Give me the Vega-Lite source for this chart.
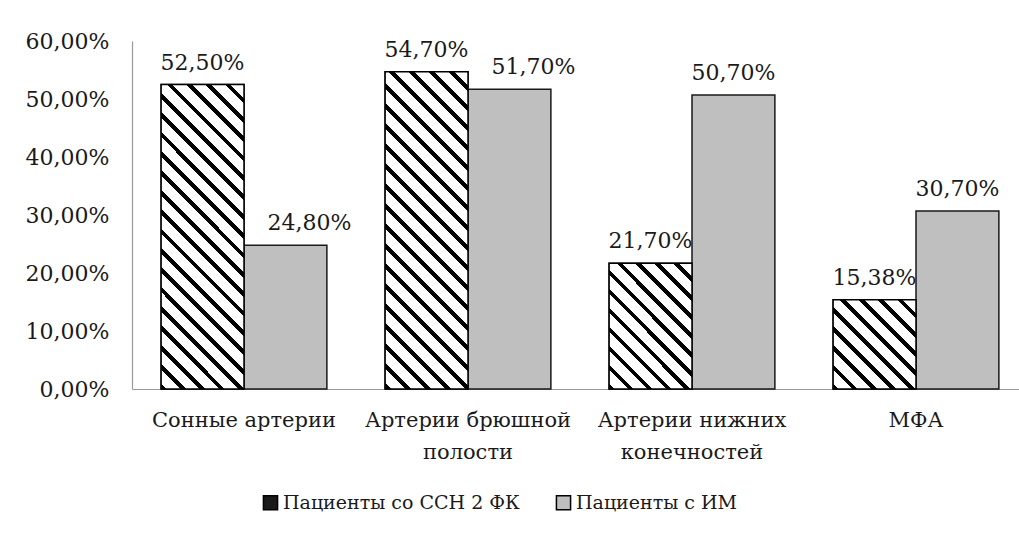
{
  "$schema": "https://vega.github.io/schema/vega-lite/v6.json",
  "width": 887,
  "height": 348,
  "autosize": {"type": "none"},
  "padding": {"left": 132, "top": 41, "right": 0, "bottom": 148},
  "background": "white",
  "config": {
    "locale": {"number": {"decimal": ",", "thousands": " ", "grouping": [3], "currency": ["", ""]}},
    "view": {"stroke": null},
    "font": "DejaVu Serif",
    "axis": {"labelFont": "DejaVu Serif", "labelFontSize": 22, "labelColor": "#1a1a1a", "domainColor": "#999999", "domainWidth": 1.2, "ticks": false, "grid": false, "title": null}
  },
  "data": {"values": [
    {"category": "Сонные артерии", "series": "Пациенты со ССН 2 ФК", "value": 0.525},
    {"category": "Сонные артерии", "series": "Пациенты с ИМ", "value": 0.248},
    {"category": "Артерии брюшной полости", "series": "Пациенты со ССН 2 ФК", "value": 0.547},
    {"category": "Артерии брюшной полости", "series": "Пациенты с ИМ", "value": 0.517},
    {"category": "Артерии нижних конечностей", "series": "Пациенты со ССН 2 ФК", "value": 0.217},
    {"category": "Артерии нижних конечностей", "series": "Пациенты с ИМ", "value": 0.507},
    {"category": "МФА", "series": "Пациенты со ССН 2 ФК", "value": 0.1538},
    {"category": "МФА", "series": "Пациенты с ИМ", "value": 0.307}
  ]},
  "encoding": {
    "x": {"field": "category", "type": "nominal", "sort": null,
      "scale": {"range": [0, 896], "paddingInner": 0.26, "paddingOuter": 0.13},
      "axis": {"labelAngle": 0, "labelPadding": 20, "labelLineHeight": 32, "labelBaseline": "top", "labelLimit": 0, "labelFontSize": 21,
        "labelExpr": "datum.label == 'Артерии брюшной полости' ? ['Артерии брюшной', 'полости'] : datum.label == 'Артерии нижних конечностей' ? ['Артерии нижних', 'конечностей'] : datum.label"}},
    "xOffset": {"field": "series", "type": "nominal", "sort": null,
      "scale": {"domain": ["Пациенты со ССН 2 ФК", "Пациенты с ИМ"], "paddingInner": 0, "paddingOuter": 0}},
    "y": {"field": "value", "type": "quantitative",
      "scale": {"domain": [0, 0.6], "nice": false, "zero": true},
      "axis": {"values": [0, 0.1, 0.2, 0.3, 0.4, 0.5, 0.6], "format": ".2%", "labelPadding": 23}}
  },
  "layer": [
    {
      "mark": {"type": "bar", "stroke": "#1a1a1a", "strokeWidth": 1.5},
      "encoding": {
        "color": {"field": "series", "type": "nominal", "sort": null,
          "scale": {"domain": ["Пациенты со ССН 2 ФК", "Пациенты с ИМ"], "range": ["#1a1a1a", "#BFBFBF"]},
          "legend": {"orient": "none", "legendX": 129, "legendY": 452, "direction": "horizontal", "title": null,
            "symbolType": "square", "symbolSize": 200, "symbolStrokeColor": "#000000", "symbolStrokeWidth": 1.5, "symbolOpacity": 1,
            "labelFont": "DejaVu Serif", "labelFontSize": 19, "labelColor": "#1a1a1a", "labelOffset": 3, "columnPadding": 33, "labelLimit": 0}
        }
      }
    },
    {
      "transform": [{"filter": "datum.series === 'Пациенты со ССН 2 ФК' && datum.category === 'Сонные артерии'"}],
      "mark": {"type": "bar", "stroke": "#000000", "strokeWidth": 1.5,
        "fill": {"gradient": "linear", "x1": 0, "y1": 1, "x2": 0.3229, "y2": -0.1847, "stops": [
          {"offset": 0, "color": "#000"}, {"offset": 0.015, "color": "#000"}, {"offset": 0.015, "color": "#fff"}, {"offset": 0.05, "color": "#fff"},
          {"offset": 0.05, "color": "#000"}, {"offset": 0.065, "color": "#000"}, {"offset": 0.065, "color": "#fff"}, {"offset": 0.1, "color": "#fff"},
          {"offset": 0.1, "color": "#000"}, {"offset": 0.115, "color": "#000"}, {"offset": 0.115, "color": "#fff"}, {"offset": 0.15, "color": "#fff"},
          {"offset": 0.15, "color": "#000"}, {"offset": 0.165, "color": "#000"}, {"offset": 0.165, "color": "#fff"}, {"offset": 0.2, "color": "#fff"},
          {"offset": 0.2, "color": "#000"}, {"offset": 0.215, "color": "#000"}, {"offset": 0.215, "color": "#fff"}, {"offset": 0.25, "color": "#fff"},
          {"offset": 0.25, "color": "#000"}, {"offset": 0.265, "color": "#000"}, {"offset": 0.265, "color": "#fff"}, {"offset": 0.3, "color": "#fff"},
          {"offset": 0.3, "color": "#000"}, {"offset": 0.315, "color": "#000"}, {"offset": 0.315, "color": "#fff"}, {"offset": 0.35, "color": "#fff"},
          {"offset": 0.35, "color": "#000"}, {"offset": 0.365, "color": "#000"}, {"offset": 0.365, "color": "#fff"}, {"offset": 0.4, "color": "#fff"},
          {"offset": 0.4, "color": "#000"}, {"offset": 0.415, "color": "#000"}, {"offset": 0.415, "color": "#fff"}, {"offset": 0.45, "color": "#fff"},
          {"offset": 0.45, "color": "#000"}, {"offset": 0.465, "color": "#000"}, {"offset": 0.465, "color": "#fff"}, {"offset": 0.5, "color": "#fff"},
          {"offset": 0.5, "color": "#000"}, {"offset": 0.515, "color": "#000"}, {"offset": 0.515, "color": "#fff"}, {"offset": 0.55, "color": "#fff"},
          {"offset": 0.55, "color": "#000"}, {"offset": 0.565, "color": "#000"}, {"offset": 0.565, "color": "#fff"}, {"offset": 0.6, "color": "#fff"},
          {"offset": 0.6, "color": "#000"}, {"offset": 0.615, "color": "#000"}, {"offset": 0.615, "color": "#fff"}, {"offset": 0.65, "color": "#fff"},
          {"offset": 0.65, "color": "#000"}, {"offset": 0.665, "color": "#000"}, {"offset": 0.665, "color": "#fff"}, {"offset": 0.7, "color": "#fff"},
          {"offset": 0.7, "color": "#000"}, {"offset": 0.715, "color": "#000"}, {"offset": 0.715, "color": "#fff"}, {"offset": 0.75, "color": "#fff"},
          {"offset": 0.75, "color": "#000"}, {"offset": 0.765, "color": "#000"}, {"offset": 0.765, "color": "#fff"}, {"offset": 0.8, "color": "#fff"},
          {"offset": 0.8, "color": "#000"}, {"offset": 0.815, "color": "#000"}, {"offset": 0.815, "color": "#fff"}, {"offset": 0.85, "color": "#fff"},
          {"offset": 0.85, "color": "#000"}, {"offset": 0.865, "color": "#000"}, {"offset": 0.865, "color": "#fff"}, {"offset": 0.9, "color": "#fff"},
          {"offset": 0.9, "color": "#000"}, {"offset": 0.915, "color": "#000"}, {"offset": 0.915, "color": "#fff"}, {"offset": 0.95, "color": "#fff"},
          {"offset": 0.95, "color": "#000"}, {"offset": 0.965, "color": "#000"}, {"offset": 0.965, "color": "#fff"}, {"offset": 1, "color": "#fff"}
        ]}}
    },
    {
      "transform": [{"filter": "datum.series === 'Пациенты со ССН 2 ФК' && datum.category === 'Артерии брюшной полости'"}],
      "mark": {"type": "bar", "stroke": "#000000", "strokeWidth": 1.5,
        "fill": {"gradient": "linear", "x1": 0, "y1": 1, "x2": 0.3089, "y2": -0.1809, "stops": [
          {"offset": 0, "color": "#000"}, {"offset": 0.015, "color": "#000"}, {"offset": 0.015, "color": "#fff"}, {"offset": 0.05, "color": "#fff"},
          {"offset": 0.05, "color": "#000"}, {"offset": 0.065, "color": "#000"}, {"offset": 0.065, "color": "#fff"}, {"offset": 0.1, "color": "#fff"},
          {"offset": 0.1, "color": "#000"}, {"offset": 0.115, "color": "#000"}, {"offset": 0.115, "color": "#fff"}, {"offset": 0.15, "color": "#fff"},
          {"offset": 0.15, "color": "#000"}, {"offset": 0.165, "color": "#000"}, {"offset": 0.165, "color": "#fff"}, {"offset": 0.2, "color": "#fff"},
          {"offset": 0.2, "color": "#000"}, {"offset": 0.215, "color": "#000"}, {"offset": 0.215, "color": "#fff"}, {"offset": 0.25, "color": "#fff"},
          {"offset": 0.25, "color": "#000"}, {"offset": 0.265, "color": "#000"}, {"offset": 0.265, "color": "#fff"}, {"offset": 0.3, "color": "#fff"},
          {"offset": 0.3, "color": "#000"}, {"offset": 0.315, "color": "#000"}, {"offset": 0.315, "color": "#fff"}, {"offset": 0.35, "color": "#fff"},
          {"offset": 0.35, "color": "#000"}, {"offset": 0.365, "color": "#000"}, {"offset": 0.365, "color": "#fff"}, {"offset": 0.4, "color": "#fff"},
          {"offset": 0.4, "color": "#000"}, {"offset": 0.415, "color": "#000"}, {"offset": 0.415, "color": "#fff"}, {"offset": 0.45, "color": "#fff"},
          {"offset": 0.45, "color": "#000"}, {"offset": 0.465, "color": "#000"}, {"offset": 0.465, "color": "#fff"}, {"offset": 0.5, "color": "#fff"},
          {"offset": 0.5, "color": "#000"}, {"offset": 0.515, "color": "#000"}, {"offset": 0.515, "color": "#fff"}, {"offset": 0.55, "color": "#fff"},
          {"offset": 0.55, "color": "#000"}, {"offset": 0.565, "color": "#000"}, {"offset": 0.565, "color": "#fff"}, {"offset": 0.6, "color": "#fff"},
          {"offset": 0.6, "color": "#000"}, {"offset": 0.615, "color": "#000"}, {"offset": 0.615, "color": "#fff"}, {"offset": 0.65, "color": "#fff"},
          {"offset": 0.65, "color": "#000"}, {"offset": 0.665, "color": "#000"}, {"offset": 0.665, "color": "#fff"}, {"offset": 0.7, "color": "#fff"},
          {"offset": 0.7, "color": "#000"}, {"offset": 0.715, "color": "#000"}, {"offset": 0.715, "color": "#fff"}, {"offset": 0.75, "color": "#fff"},
          {"offset": 0.75, "color": "#000"}, {"offset": 0.765, "color": "#000"}, {"offset": 0.765, "color": "#fff"}, {"offset": 0.8, "color": "#fff"},
          {"offset": 0.8, "color": "#000"}, {"offset": 0.815, "color": "#000"}, {"offset": 0.815, "color": "#fff"}, {"offset": 0.85, "color": "#fff"},
          {"offset": 0.85, "color": "#000"}, {"offset": 0.865, "color": "#000"}, {"offset": 0.865, "color": "#fff"}, {"offset": 0.9, "color": "#fff"},
          {"offset": 0.9, "color": "#000"}, {"offset": 0.915, "color": "#000"}, {"offset": 0.915, "color": "#fff"}, {"offset": 0.95, "color": "#fff"},
          {"offset": 0.95, "color": "#000"}, {"offset": 0.965, "color": "#000"}, {"offset": 0.965, "color": "#fff"}, {"offset": 1, "color": "#fff"}
        ]}}
    },
    {
      "transform": [{"filter": "datum.series === 'Пациенты со ССН 2 ФК' && datum.category === 'Артерии нижних конечностей'"}],
      "mark": {"type": "bar", "stroke": "#000000", "strokeWidth": 1.5,
        "fill": {"gradient": "linear", "x1": 0, "y1": 1, "x2": 0.7625, "y2": -0.1567, "stops": [
          {"offset": 0, "color": "#000"}, {"offset": 0.0273, "color": "#000"}, {"offset": 0.0273, "color": "#fff"}, {"offset": 0.0909, "color": "#fff"},
          {"offset": 0.0909, "color": "#000"}, {"offset": 0.1182, "color": "#000"}, {"offset": 0.1182, "color": "#fff"}, {"offset": 0.1818, "color": "#fff"},
          {"offset": 0.1818, "color": "#000"}, {"offset": 0.2091, "color": "#000"}, {"offset": 0.2091, "color": "#fff"}, {"offset": 0.2727, "color": "#fff"},
          {"offset": 0.2727, "color": "#000"}, {"offset": 0.3, "color": "#000"}, {"offset": 0.3, "color": "#fff"}, {"offset": 0.3636, "color": "#fff"},
          {"offset": 0.3636, "color": "#000"}, {"offset": 0.3909, "color": "#000"}, {"offset": 0.3909, "color": "#fff"}, {"offset": 0.4545, "color": "#fff"},
          {"offset": 0.4545, "color": "#000"}, {"offset": 0.4818, "color": "#000"}, {"offset": 0.4818, "color": "#fff"}, {"offset": 0.5455, "color": "#fff"},
          {"offset": 0.5455, "color": "#000"}, {"offset": 0.5727, "color": "#000"}, {"offset": 0.5727, "color": "#fff"}, {"offset": 0.6364, "color": "#fff"},
          {"offset": 0.6364, "color": "#000"}, {"offset": 0.6636, "color": "#000"}, {"offset": 0.6636, "color": "#fff"}, {"offset": 0.7273, "color": "#fff"},
          {"offset": 0.7273, "color": "#000"}, {"offset": 0.7545, "color": "#000"}, {"offset": 0.7545, "color": "#fff"}, {"offset": 0.8182, "color": "#fff"},
          {"offset": 0.8182, "color": "#000"}, {"offset": 0.8455, "color": "#000"}, {"offset": 0.8455, "color": "#fff"}, {"offset": 0.9091, "color": "#fff"},
          {"offset": 0.9091, "color": "#000"}, {"offset": 0.9364, "color": "#000"}, {"offset": 0.9364, "color": "#fff"}, {"offset": 1, "color": "#fff"}
        ]}}
    },
    {
      "transform": [{"filter": "datum.series === 'Пациенты со ССН 2 ФК' && datum.category === 'МФА'"}],
      "mark": {"type": "bar", "stroke": "#000000", "strokeWidth": 1.5,
        "fill": {"gradient": "linear", "x1": 0, "y1": 1, "x2": 0.9627, "y2": -0.0346, "stops": [
          {"offset": 0, "color": "#000"}, {"offset": 0.0333, "color": "#000"}, {"offset": 0.0333, "color": "#fff"}, {"offset": 0.1111, "color": "#fff"},
          {"offset": 0.1111, "color": "#000"}, {"offset": 0.1444, "color": "#000"}, {"offset": 0.1444, "color": "#fff"}, {"offset": 0.2222, "color": "#fff"},
          {"offset": 0.2222, "color": "#000"}, {"offset": 0.2556, "color": "#000"}, {"offset": 0.2556, "color": "#fff"}, {"offset": 0.3333, "color": "#fff"},
          {"offset": 0.3333, "color": "#000"}, {"offset": 0.3667, "color": "#000"}, {"offset": 0.3667, "color": "#fff"}, {"offset": 0.4444, "color": "#fff"},
          {"offset": 0.4444, "color": "#000"}, {"offset": 0.4778, "color": "#000"}, {"offset": 0.4778, "color": "#fff"}, {"offset": 0.5556, "color": "#fff"},
          {"offset": 0.5556, "color": "#000"}, {"offset": 0.5889, "color": "#000"}, {"offset": 0.5889, "color": "#fff"}, {"offset": 0.6667, "color": "#fff"},
          {"offset": 0.6667, "color": "#000"}, {"offset": 0.7, "color": "#000"}, {"offset": 0.7, "color": "#fff"}, {"offset": 0.7778, "color": "#fff"},
          {"offset": 0.7778, "color": "#000"}, {"offset": 0.8111, "color": "#000"}, {"offset": 0.8111, "color": "#fff"}, {"offset": 0.8889, "color": "#fff"},
          {"offset": 0.8889, "color": "#000"}, {"offset": 0.9222, "color": "#000"}, {"offset": 0.9222, "color": "#fff"}, {"offset": 1, "color": "#fff"}
        ]}}
    },
    {
      "transform": [{"filter": "!((datum.category === 'Сонные артерии' || datum.category === 'Артерии брюшной полости') && datum.series === 'Пациенты с ИМ')"}],
      "mark": {"type": "text", "baseline": "alphabetic", "dy": -15, "font": "DejaVu Serif", "fontSize": 22, "color": "#1a1a1a"},
      "encoding": {"text": {"field": "value", "type": "quantitative", "format": ".2%"}}
    },
    {
      "transform": [{"filter": "(datum.category === 'Сонные артерии' || datum.category === 'Артерии брюшной полости') && datum.series === 'Пациенты с ИМ'"}],
      "mark": {"type": "text", "baseline": "alphabetic", "dy": -15, "dx": 24, "font": "DejaVu Serif", "fontSize": 22, "color": "#1a1a1a"},
      "encoding": {"text": {"field": "value", "type": "quantitative", "format": ".2%"}}
    }
  ]
}
